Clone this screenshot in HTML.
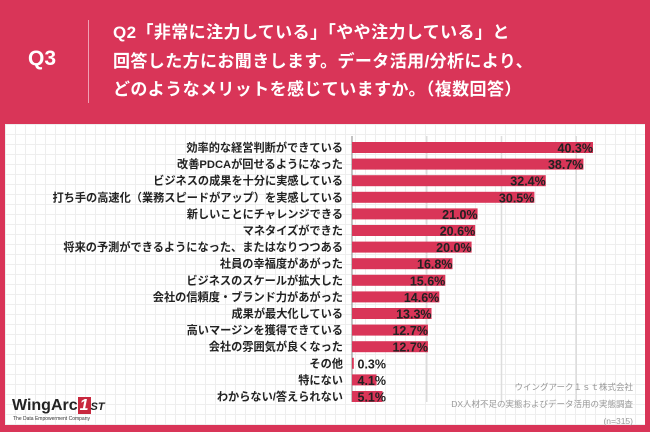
<!DOCTYPE html>
<html><head><meta charset="utf-8"><style>
body{margin:0;width:650px;height:432px;background:#d93558;overflow:hidden;position:relative;font-family:"Liberation Sans","Noto Sans CJK JP",sans-serif}
.panel{position:absolute;left:5px;top:124px;width:640px;height:301px;background-color:#fff;background-image:linear-gradient(#eee 1px,transparent 1px),linear-gradient(90deg,#eee 1px,transparent 1px);background-size:10px 10px}
.q3{position:absolute;left:28px;top:47px;color:#fff;font-weight:bold;font-size:21px}
.div{position:absolute;left:88px;top:20px;width:1px;height:83px;background:#f0a0b4}
.qt{position:absolute;left:113px;top:19px;color:#fff;font-weight:bold;font-size:17px;letter-spacing:0.4px;line-height:28.5px;white-space:nowrap}
</style></head><body>
<div class="q3">Q3</div>
<div class="div"></div>
<div class="qt">Q2「非常に注力している」「やや注力している」と<br>回答した方にお聞きします。データ活用/分析により、<br>どのようなメリットを感じていますか。（複数回答）</div>
<div class="panel"></div>
<svg id="chart" width="650" height="432" style="position:absolute;left:0;top:0"></svg>
<div style="position:absolute;left:12px;top:397px;font-size:16px;font-weight:bold;color:#222">WingArc<span style="background:#c8283e;color:#fff;padding:0 2px;font-style:italic">1</span><span style="font-style:italic;font-size:11px">ST</span></div>
<div style="position:absolute;left:13px;top:416px;font-size:5px;color:#333">The Data Empowerment Company</div>
<div style="position:absolute;right:17px;top:379px;text-align:right;font-size:8.5px;line-height:17px;color:#999">ウイングアーク１ｓｔ株式会社<br>DX人材不足の実態およびデータ活用の実態調査<br>(n=315)</div>
<script>
const categories=["効率的な経営判断ができている","改善PDCAが回せるようになった","ビジネスの成果を十分に実感している","打ち手の高速化（業務スピードがアップ）を実感している","新しいことにチャレンジできる","マネタイズができた","将来の予測ができるようになった、またはなりつつある","社員の幸福度があがった","ビジネスのスケールが拡大した","会社の信頼度・ブランド力があがった","成果が最大化している","高いマージンを獲得できている","会社の雰囲気が良くなった","その他","特にない","わからない/答えられない"];
const values=[40.3,38.7,32.4,30.5,21.0,20.6,20.0,16.8,15.6,14.6,13.3,12.7,12.7,0.3,4.1,5.1];
const gridTicks=[12.5,25,37.5];
const NS="http://www.w3.org/2000/svg";
const svg=document.getElementById("chart");
const x0=352,pxPer=5.98,y0=147.5,pitch=16.6,bh=11;
const xs=v=>x0+v*pxPer;
const ys=i=>y0+i*pitch;
function mk(t,a){const e=document.createElementNS(NS,t);for(const k in a)e.setAttribute(k,a[k]);svg.appendChild(e);return e;}
gridTicks.forEach(t=>{const l=mk("line",{x1:xs(t),x2:xs(t),y1:136,y2:402,stroke:"#ddd","stroke-width":1.5});

});
const ax=mk("line",{x1:x0,x2:x0,y1:136,y2:402,stroke:"#888","stroke-width":1});


categories.forEach((c,i)=>{
const y=ys(i);
const t=mk("text",{x:343,y:y+4,"text-anchor":"end","font-size":"11.2","font-weight":"bold",fill:"#222"});t.textContent=c;


const r=mk("rect",{x:x0,y:y-bh/2,width:Math.max(values[i]*pxPer,1),height:bh,fill:"#d93558"});


const end=Math.max(xs(values[i]),x0+34);
const v=mk("text",{x:end,y:y+5,"text-anchor":"end","font-size":"12.5","font-weight":"bold",fill:"#222"});v.textContent=values[i].toFixed(1)+"%";


});
</script>
</body></html>
